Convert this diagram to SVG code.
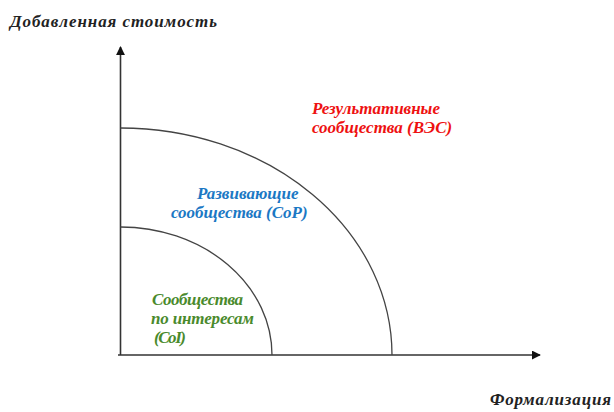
<svg xmlns="http://www.w3.org/2000/svg" width="614" height="412" viewBox="0 0 614 412">
<style>
.t{font-family:'Liberation Serif','DejaVu Serif',serif;font-weight:700;font-style:italic;font-size:17px}
.ax{stroke:#333;stroke-width:1.6;fill:none}
.arc{stroke:#444;stroke-width:1.3;fill:none}
</style>
<defs>
<marker id="ah" viewBox="0 0 10 10" refX="9" refY="5" markerWidth="9" markerHeight="9" markerUnits="userSpaceOnUse" orient="auto">
<path d="M0,0 L10,5 L0,10 z" fill="#111"/>
</marker>
</defs>
<rect width="614" height="412" fill="#fff"/>
<g id="connectors">
<line class="ax" x1="120.5" y1="355" x2="120.5" y2="47" marker-end="url(#ah)"/>
<line class="ax" x1="118" y1="355" x2="540" y2="355" marker-end="url(#ah)"/>
<path class="arc" d="M120.5,128 A271.5,227 0 0 1 392,355"/>
<path class="arc" d="M120.5,227 A151.5,128 0 0 1 272,355"/>
</g>
<g id="axis-y-label"><text class="t" x="10" y="27" font-size="19" fill="#222" textLength="207">Добавленная стоимость</text></g>
<g id="axis-x-label"><text class="t" x="490" y="405" font-size="19" fill="#222" textLength="121">Формализация</text></g>
<g id="node-ves">
<text class="t" x="312" y="114" fill="#ee1111">Результативные</text>
<text class="t" x="312" y="133" fill="#ee1111">сообщества (ВЭС)</text>
</g>
<g id="node-cop">
<text class="t" x="197" y="199" fill="#1b78c4">Развивающие</text>
<text class="t" x="171" y="218" fill="#1b78c4">сообщества (CoP)</text>
</g>
<g id="node-coi">
<text class="t" x="152" y="305" font-size="16" fill="#4a8a2c" textLength="91">Сообщества</text>
<text class="t" x="151" y="324" font-size="16" fill="#4a8a2c" textLength="103">по интересам</text>
<text class="t" x="154" y="343" font-size="16" fill="#4a8a2c" textLength="32">(CoI)</text>
</g>
</svg>
